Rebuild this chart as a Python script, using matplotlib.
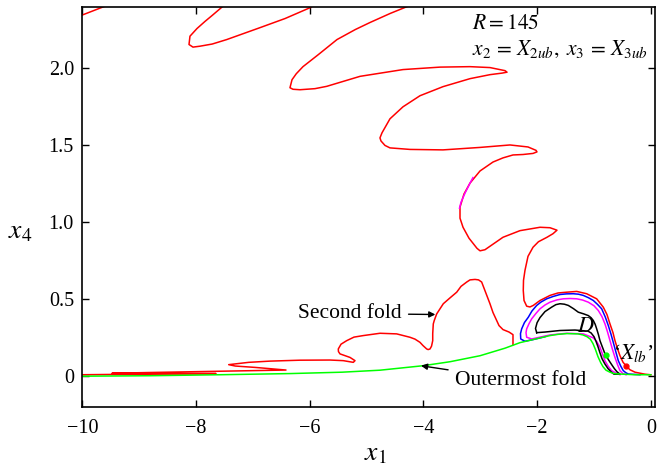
import numpy as np
import matplotlib
matplotlib.use("Agg")
import matplotlib.pyplot as plt

plt.rcParams['font.family'] = ['Liberation Serif', 'DejaVu Serif']
plt.rcParams['mathtext.fontset'] = 'stix'

nan = np.nan

# red continuation curve, pieces split by nan
red_x = [-10.13, -10.005, -9.566, -9.478, nan,
         -7.472, -7.525, -7.715, -7.842, -7.982, -8.106, -8.123, -8.053, -7.930, -7.715, -7.460,
         -6.878, -6.432, -5.995, -5.872, nan,
         -4.165, -4.236, -4.583, -4.939, -5.199, -5.520, -5.849, -6.118, -6.236, -6.311, -6.347,
         -6.294, -6.171, -5.907, -5.701, -5.115, -4.359, -3.707, -3.180, -2.828, -2.652, -2.564,
         -2.529, -2.617, -2.828, -3.180, -3.655, -4.060, -4.359, -4.588, -4.728, -4.764, -4.746,
         -4.676, -4.588, -4.236, -3.655, -3.004, -2.477, -2.160, -2.019, -2.002, -2.072, -2.248,
         -2.424, -2.600, -2.776, -3.004, -3.180, -3.286, -3.356, -3.356, -3.303, -3.198, -3.057,
         -3.004, -2.917, -2.776, -2.600, -2.301, -1.949, -1.773, -1.650, -1.721, -1.826, -1.976,
         -2.072, -2.160, -2.213, -2.239, -2.243, -2.230, -2.183, -2.125, -2.067, -1.949, -1.773,
         -1.632, -1.479, -1.303, -1.128, -0.952, -0.836, -0.771, -0.718, -0.665, -0.630, -0.586,
         -0.542, -0.489, -0.424, -0.367, -0.278, -0.102, 0.0, nan,
         -2.424, -2.424, -2.494, -2.600, -2.670, -2.711, -2.776, -2.829, -2.917, -2.975, -3.030,
         -3.092, -3.180, -3.238, -3.338, -3.414, -3.532, -3.650, -3.766, -3.809, -3.826, -3.836,
         -3.836, -3.857, -3.884, -3.917, -3.942, -4.007, -4.060, -4.148, -4.236, -4.470, -4.763,
         -5.057, -5.221, -5.349, -5.449, -5.497, -5.494, -5.467, -5.291, -5.203, -5.233, -5.409,
         -5.643, -6.171, -6.698, -7.073, -7.425, -7.309, -6.957, -6.417, -6.721, -7.666, -8.809,
         -9.478, -8.809, -7.648, -8.809, -10.0]
red_y = [2.327, 2.344, 2.407, 2.427, nan,
         2.466, 2.402, 2.342, 2.303, 2.257, 2.207, 2.153, 2.136, 2.142, 2.156, 2.185,
         2.262, 2.322, 2.392, 2.420, nan,
         2.453, 2.407, 2.355, 2.296, 2.250, 2.185, 2.087, 2.009, 1.963, 1.924, 1.872,
         1.862, 1.859, 1.866, 1.881, 1.946, 1.990, 2.006, 2.009, 2.003, 1.990, 1.983,
         1.973, 1.967, 1.957, 1.931, 1.879, 1.820, 1.748, 1.670, 1.579, 1.546, 1.526,
         1.497, 1.481, 1.471, 1.468, 1.484, 1.500, 1.487, 1.465, 1.455, 1.445, 1.438,
         1.435, 1.416, 1.389, 1.331, 1.252, 1.181, 1.096, 1.024, 0.965, 0.894, 0.828,
         0.812, 0.819, 0.855, 0.900, 0.943, 0.965, 0.962, 0.946, 0.923, 0.900, 0.871,
         0.835, 0.776, 0.685, 0.620, 0.554, 0.489, 0.452, 0.447, 0.457, 0.489, 0.522,
         0.538, 0.543, 0.548, 0.533, 0.500, 0.446, 0.398, 0.337, 0.280, 0.228, 0.176,
         0.130, 0.088, 0.059, 0.039, 0.023, 0.010, 0.006, nan,
         0.202, 0.267, 0.284, 0.300, 0.326, 0.359, 0.411, 0.468, 0.554, 0.609, 0.623,
         0.626, 0.623, 0.609, 0.581, 0.543, 0.506, 0.468, 0.402, 0.359, 0.337, 0.274,
         0.228, 0.192, 0.174, 0.170, 0.174, 0.196, 0.217, 0.238, 0.250, 0.272, 0.276,
         0.261, 0.251, 0.228, 0.205, 0.174, 0.157, 0.142, 0.119, 0.098, 0.087, 0.098,
         0.102, 0.101, 0.095, 0.087, 0.072, 0.063, 0.054, 0.037, 0.035, 0.029, 0.021,
         0.016, 0.015, 0.014, 0.011, 0.0065]

# magenta stretch lying on the red curve
mag_seg_x = [-3.128, -3.180, -3.268, -3.338, -3.365]
mag_seg_y = [1.288, 1.252, 1.187, 1.128, 1.089]

# outermost fold
green_x = [-10.0, -8.809, -7.578, -6.347, -5.432, -4.763, -4.007, -3.532, -3.004, -2.565, -2.301,
           -2.037, -1.773, -1.632, -1.474, -1.281, -1.193, -1.123, -1.064, -1.017, -0.973, -0.929,
           -0.885, -0.841, -0.788, -0.718, -0.647, -0.542, -0.278, 0.0]
green_y = [-0.003, 0.0, 0.0065, 0.014, 0.023, 0.036, 0.065, 0.091, 0.130, 0.179, 0.215,
           0.238, 0.261, 0.269, 0.274, 0.272, 0.265, 0.254, 0.238, 0.209, 0.170, 0.124,
           0.088, 0.059, 0.036, 0.023, 0.014, 0.011, 0.0065, 0.0065]

blue_x = [-1.861, -2.072, -2.213, -2.288, -2.292, -2.271, -2.222, -2.155, -2.090, -2.007, -1.931,
          -1.831, -1.720, -1.597, -1.483, -1.363, -1.272, -1.187, -1.096, -1.011, -0.938, -0.864,
          -0.801, -0.747, -0.701, -0.660, -0.616, -0.572, -0.528, -0.484, -0.440, -0.396, -0.190]
blue_y = [0.254, 0.235, 0.224, 0.239, 0.274, 0.305, 0.346, 0.380, 0.421, 0.457, 0.479,
          0.500, 0.515, 0.528, 0.532, 0.533, 0.530, 0.522, 0.507, 0.489, 0.464, 0.435,
          0.382, 0.326, 0.271, 0.217, 0.157, 0.098, 0.062, 0.033, 0.020, 0.011, 0.0065]

mag_x = [-0.542, -0.615, -0.688, -0.750, -0.806, -0.850, -0.893, -0.950, -1.011, -1.187, -1.479,
         -1.773, -2.095, -2.183, -2.195, -2.183, -2.140, -2.095, -2.020, -1.949, -1.860, -1.773,
         -1.650, -1.539, -1.420, -1.303, -1.200, -1.099, -1.000, -0.923, -0.860, -0.806, -0.760,
         -0.718, -0.675, -0.630, -0.585, -0.542, -0.490, -0.436]
mag_y = [0.0065, 0.018, 0.033, 0.062, 0.098, 0.140, 0.185, 0.222, 0.246, 0.272, 0.276,
         0.265, 0.239, 0.250, 0.280, 0.305, 0.340, 0.370, 0.405, 0.435, 0.460, 0.478,
         0.493, 0.500, 0.502, 0.500, 0.492, 0.478, 0.455, 0.424, 0.385, 0.337, 0.283,
         0.228, 0.172, 0.119, 0.072, 0.033, 0.014, 0.0065]

# region D boundary
black_x = [-2.007, -2.028, -2.000, -1.949, -1.861, -1.743, -1.670, -1.597, -1.520, -1.451, -1.360,
           -1.275, -1.180, -1.099, -1.050, -1.011, -0.978, -0.952, -0.920, -0.894, -0.850, -0.806,
           -0.745, -0.688, -0.640, -0.595, -0.542, -0.647, -0.700, -0.752, -0.810, -0.858, -0.895,
           -0.929, -0.965, -0.999, -1.050, -1.105, -1.334, -1.597, -1.861, -2.007]
black_y = [0.280, 0.307, 0.345, 0.378, 0.417, 0.446, 0.462, 0.468, 0.465, 0.457, 0.436,
           0.413, 0.402, 0.391, 0.377, 0.359, 0.334, 0.305, 0.266, 0.228, 0.185, 0.142,
           0.104, 0.072, 0.046, 0.026, 0.010, 0.010, 0.026, 0.046, 0.078, 0.111, 0.150,
           0.189, 0.225, 0.254, 0.278, 0.290, 0.297, 0.294, 0.284, 0.280]

green_pt = (-0.788, 0.137)
red_pt = (-0.436, 0.065)

fig = plt.figure(figsize=(6.58, 4.69), dpi=100)
ax = fig.add_axes([82.3/658, 1-406.5/469, (655-82.3)/658, 400/469])

lw = 1.1
ax.plot(red_x, red_y, color='#ff0000', lw=lw)
ax.plot(mag_seg_x, mag_seg_y, color='#ff00ff', lw=lw)
ax.plot(blue_x, blue_y, color='#0000ff', lw=lw)
ax.plot(mag_x, mag_y, color='#ff00ff', lw=lw)
ax.plot(black_x, black_y, color='k', lw=lw)
ax.plot(green_x, green_y, color='#00ff00', lw=lw)
ax.plot(*green_pt, 'o', color='#00ff00', ms=3.5)
ax.plot(*red_pt, 'o', color='#ff0000', ms=3.5)

ax.set_xlim(-10, 0.074)
ax.set_ylim(-0.2, 2.4)
ax.set_xticks([-10, -8, -6, -4, -2, 0])
ax.set_yticks([0, 0.5, 1.0, 1.5, 2.0])
ax.set_yticklabels(['0', '0.5', '1.0', '1.5', '2.0'])
ax.tick_params(direction='in', length=5, width=1, labelsize=14.5, top=True, right=True)
ax.tick_params(axis='x', pad=9)
ax.tick_params(axis='y', pad=6)
for s in ax.spines.values():
    s.set_linewidth(1.2)

ax.set_xlabel(r'$x_1$', fontsize=20)
ax.set_ylabel(r'$x_4$', fontsize=20, rotation=0)
ax.xaxis.set_label_coords(0.511, -0.088)
ax.yaxis.set_label_coords(-0.109, 0.405)

ax.text(-3.145, 2.283, r'$R = 145$', fontsize=15.5, va='center')
ax.text(-3.145, 2.12, r'$x_2\,=\,X_{2ub},\; x_3\,=\,X_{3ub}$', fontsize=15.5, va='center')
ax.annotate('Second fold', xy=(-3.79, 0.398), xytext=(-6.206, 0.404), fontsize=15.5, va='center',
            arrowprops=dict(arrowstyle='-|>', color='k', lw=1, shrinkA=3, shrinkB=0, mutation_scale=9))
ax.annotate('Outermost fold', xy=(-4.042, 0.065), xytext=(-3.444, -0.033), fontsize=15.5, va='center',
            arrowprops=dict(arrowstyle='-|>', color='k', lw=1, shrinkA=3, shrinkB=0, mutation_scale=9))
ax.text(-1.14, 0.313, r'$D$', fontsize=16, ha='center', va='center')
ax.text(-0.665, 0.15, r"‘$X_{lb}$’", fontsize=15.5, va='center')

fig.savefig('out.png', dpi=100)
